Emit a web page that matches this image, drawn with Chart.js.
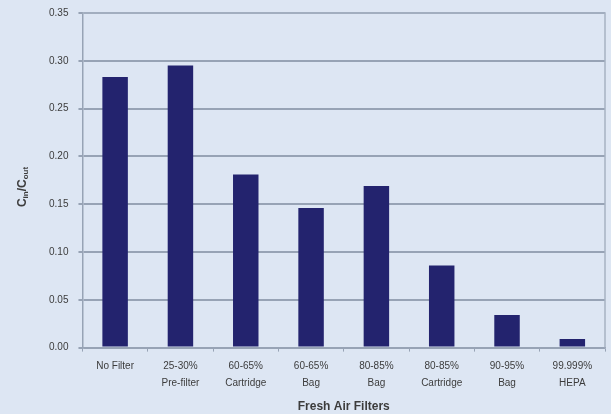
<!DOCTYPE html>
<html>
<head>
<meta charset="utf-8">
<script src="https://cdn.jsdelivr.net/npm/chart.js@4/dist/chart.umd.min.js"></script>
<style>
  html, body { margin: 0; padding: 0; background: #dde6f3; }
  #wrap { width: 611px; height: 414px; position: relative; }
</style>
</head>
<body>
<div id="wrap"><canvas id="c" width="611" height="414"></canvas></div>
<script>
// Filter categories (two-line labels) and indoor/outdoor concentration ratios
const categories = [
  ['No Filter'],
  ['25-30%', 'Pre-filter'],
  ['60-65%', 'Cartridge'],
  ['60-65%', 'Bag'],
  ['80-85%', 'Bag'],
  ['80-85%', 'Cartridge'],
  ['90-95%', 'Bag'],
  ['99.999%', 'HEPA']
];
const ratios = [0.283, 0.295, 0.181, 0.146, 0.169, 0.086, 0.034, 0.009];
const yTicks = [0.00, 0.05, 0.10, 0.15, 0.20, 0.25, 0.30, 0.35];

const BAR = '#23236e';
const GRID = '#97a3b5';
const TEXT = '#3c3c3c';
const FONT = '"Liberation Sans", Arial, sans-serif';

// Background fill for the whole canvas
const bgPlugin = {
  id: 'bg',
  beforeDraw(chart) {
    const ctx = chart.ctx;
    ctx.save();
    ctx.fillStyle = '#dde6f3';
    ctx.fillRect(0, 0, chart.width, chart.height);
    ctx.restore();
  }
};

// Plot frame on top and right, plus the rotated y title with subscripts
const framePlugin = {
  id: 'frame',
  afterDraw(chart) {
    const { ctx, chartArea: a } = chart;
    ctx.save();
    ctx.strokeStyle = '#a7b2c2';
    ctx.lineWidth = 1.5;
    ctx.beginPath();
    ctx.moveTo(a.left, a.top);
    ctx.lineTo(a.right, a.top);
    ctx.lineTo(a.right, a.bottom);
    ctx.stroke();

    // y-axis title: C_in / C_out
    const cx = 22, cy = 187;
    ctx.translate(cx, cy);
    ctx.rotate(-Math.PI / 2);
    ctx.fillStyle = TEXT;
    ctx.textBaseline = 'alphabetic';
    const big = 'bold 12px ' + FONT;
    const small = 'bold 8px ' + FONT;
    const parts = [['C', big, 0], ['in', small, 2], ['/C', big, 0], ['out', small, 2]];
    let total = 0;
    parts.forEach(p => { ctx.font = p[1]; total += ctx.measureText(p[0]).width; });
    let x = -total / 2;
    parts.forEach(p => {
      ctx.font = p[1];
      ctx.fillText(p[0], x, 4 + p[2]);
      x += ctx.measureText(p[0]).width;
    });
    ctx.restore();
  }
};

new Chart(document.getElementById('c'), {
  type: 'bar',
  data: {
    labels: categories,
    datasets: [{
      data: ratios,
      backgroundColor: BAR,
      borderWidth: 0,
      barPercentage: 0.39,
      categoryPercentage: 1.0
    }]
  },
  options: {
    responsive: false,
    animation: false,
    devicePixelRatio: 1,
    layout: { padding: { left: 39, right: 6, top: 13, bottom: 0 } },
    plugins: {
      legend: { display: false },
      tooltip: { enabled: false }
    },
    scales: {
      x: {
        grid: {
          display: true,
          drawOnChartArea: false,
          offset: true,
          color: GRID,
          tickLength: 4
        },
        border: { color: GRID, width: 1.5 },
        ticks: {
          color: TEXT,
          font: { family: FONT, size: 10, lineHeight: 1.7 },
          maxRotation: 0,
          autoSkip: false,
          padding: 6
        },
        title: {
          display: true,
          text: 'Fresh Air Filters',
          color: TEXT,
          font: { family: FONT, size: 12, weight: 'bold' },
          padding: { top: 2, bottom: 0 }
        }
      },
      y: {
        min: 0,
        max: 0.35,
        afterBuildTicks(scale) {
          scale.ticks = yTicks.map(v => ({ value: v }));
        },
        // let the layout padding alone decide the top edge of the plot
        afterFit(scale) {
          scale.paddingTop = 0;
        },
        grid: {
          color: GRID,
          lineWidth: 2,
          tickLength: 4
        },
        border: { color: GRID, width: 1.5 },
        ticks: {
          color: TEXT,
          font: { family: FONT, size: 10 },
          padding: 10,
          callback: v => Number(v).toFixed(2)
        }
      }
    }
  },
  plugins: [bgPlugin, framePlugin]
});
</script>
</body>
</html>
